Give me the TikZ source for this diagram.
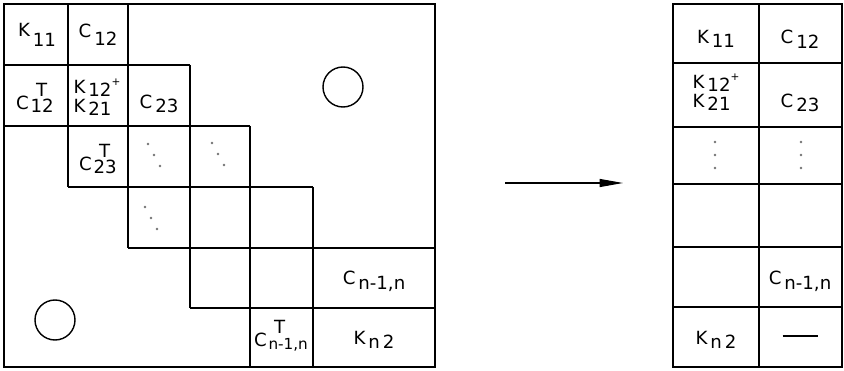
\documentclass[tikz,border=0pt]{standalone}
\usepackage{fontspec}
\setmainfont{DejaVu Sans}
\usetikzlibrary{arrows.meta,calc,positioning}

% letter with lowered index, and with T above the index
\newcommand{\ix}[3][5pt]{#2\kern2.5pt\raisebox{-#1}{#3}}
\newcommand{\ixt}[2]{#1\kern1.5pt\raisebox{-3pt}{\rlap{\kern0.3em\raisebox{14pt}{T}}#2}}

\begin{document}
\begin{tikzpicture}[x=0.03cm,y=-0.03cm,
    lbl/.style={font=\fontsize{15.5}{18}\selectfont, inner sep=0pt, align=center},
    grid/.style={line width=1.1pt},
    ring/.style={circle, draw, line width=1.2pt, minimum size=1.2cm, inner sep=0pt},
    dot/.style={circle, fill=black!55, inner sep=0pt, minimum size=2.2pt}]
    \useasboundingbox (0,0) rectangle (844,371);
    % band matrix
    \draw[grid] (4,4) rectangle (435,367);
    \draw[grid] (4,65) -- (190,65);
    \draw[grid] (4,126) -- (250,126);
    \draw[grid] (68,187) -- (313,187);
    \draw[grid] (128,248) -- (435,248);
    \draw[grid] (190,308) -- (435,308);
    \draw[grid] (68,4) -- (68,187);
    \draw[grid] (128,4) -- (128,248);
    \draw[grid] (190,65) -- (190,308);
    \draw[grid] (250,126) -- (250,367);
    \draw[grid] (313,187) -- (313,367);
    \node[ring] (zu) at (343,87) {};
    \node[ring] (zl) at (55,320) {};
    \node[lbl] (k11) at (37,35) {\ix[8pt]{K}{11}};
    \node[lbl] (c12) at (98,35) {\ix[7pt]{C}{12}};
    \node[lbl] (c12t) at (35,98) {\ixt{C}{12}};
    \node[lbl, align=left] (k12) at (97,97) {\ix[3pt]{K}{12}\raisebox{7pt}{\small +}\\[-2pt]\ix[3pt]{K}{21}};
    \node[lbl] (c23) at (159,104) {\ix[3pt]{C}{23}};
    \node[lbl] (c23t) at (98,159) {\ixt{C}{23}};
    \node[lbl] (cn) at (374,281) {\ix[4pt]{C}{n-1,n}};
    \node[lbl] (cnt) at (281,336) {\ixt{C}{\fontsize{13}{15}\selectfont n-1,n}};
    \node[lbl] (kn) at (374,340) {\ix[4pt]{K}{n\,2}};
    % diagonal dots
    \foreach \cx/\cy in {148/144, 212/143, 145/207} {
        \node[dot] at (\cx,\cy) {};
        \node[dot] at (\cx+6,\cy+11) {};
        \node[dot] at (\cx+12,\cy+22) {};
    }
    % arrow
    \coordinate (from) at (505,183);
    \coordinate (to) at (623,183);
    \draw[line width=0.9pt, -{Triangle[length=7mm,width=2.4mm]}] (from) -- (to);
    % reduced storage
    \draw[grid] (673,4) rectangle (842,367);
    \draw[grid] (759,4) -- (759,367);
    \foreach \ry in {63,127,184,247,307}
        \draw[grid] (673,\ry) -- (842,\ry);
    \node[lbl] (rk11) at (716,39) {\ix[4pt]{K}{11}};
    \node[lbl] (rc12) at (800,39) {\ix[4pt]{C}{12}};
    \node[lbl, align=left] (rk12) at (716,92) {\ix[3pt]{K}{12}\raisebox{7pt}{\small +}\\[-2pt]\ix[3pt]{K}{21}};
    \node[lbl] (rc23) at (800,103) {\ix[4pt]{C}{23}};
    \foreach \vy in {142,155,168} {
        \node[dot] at (715,\vy) {};
        \node[dot] at (801,\vy) {};
    }
    \node[lbl] (rcn) at (800,281) {\ix[4pt]{C}{n-1,n}};
    \node[lbl] (rkn) at (716,340) {\ix[4pt]{K}{n\,2}};
    \node[lbl] (rnil) at (800,338) {\rule[3pt]{1.05cm}{1.4pt}};
\end{tikzpicture}
\end{document}
